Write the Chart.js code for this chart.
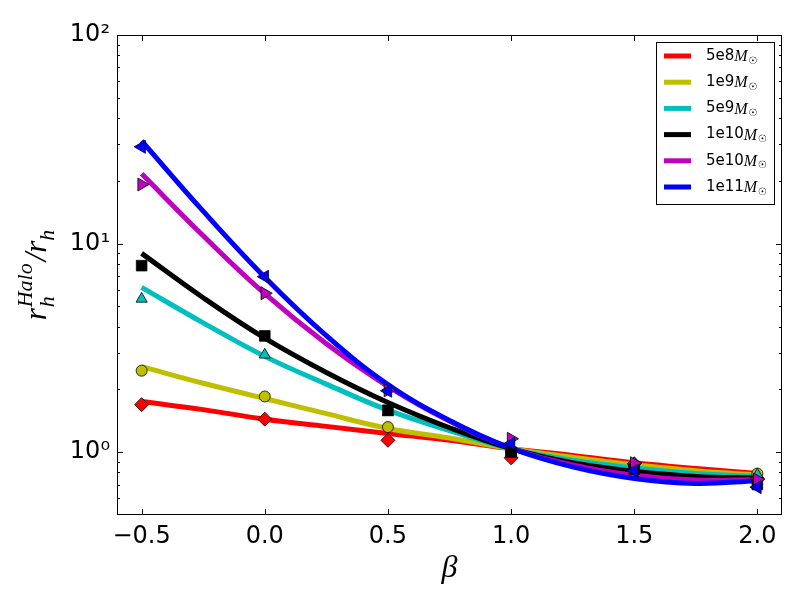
<!DOCTYPE html>
<html>
<head>
<meta charset="utf-8">
<script src="https://cdn.jsdelivr.net/npm/chart.js@4.4.1/dist/chart.umd.min.js"></script>
<style>
  html, body { margin: 0; padding: 0; background: #fff; }
  #wrap { width: 800px; height: 600px; }
</style>
</head>
<body>
<div id="wrap"><canvas id="haloChart" width="800" height="600"></canvas></div>
<script>
// beta values where the measured points sit, and where the fitted curves are read
const BETA_PTS = [-0.5, 0.0, 0.5, 1.0, 1.5, 2.0];
const BETA_FIT = [-0.5, -0.25, 0.0, 0.25, 0.5, 0.75, 1.0, 1.25, 1.5, 1.75, 2.0];

// series names (mass before the M_sun symbol)
const MASSES = ['5e8', '1e9', '5e9', '1e10', '5e10', '1e11'];

// measured r_h^Halo / r_h
const pts5e8  = [1.69, 1.44, 1.14, 0.94, 0.88, 0.75];
const pts1e9  = [2.46, 1.85, 1.32, 1.00, 0.87, 0.79];
const pts5e9  = [5.43, 2.93, 1.55, 1.00, 0.88, 0.78];
const pts1e10 = [7.84, 3.61, 1.59, 1.00, 0.83, 0.70];
const pts5e10 = [19.2, 5.78, 1.98, 1.16, 0.886, 0.74];
const pts1e11 = [29.1, 6.94, 1.97, 1.10, 0.816, 0.68];

// fitted curves
const fit5e8  = [1.75, 1.60, 1.44, 1.33, 1.23, 1.14, 1.04, 0.965, 0.89, 0.835, 0.79];
const fit1e9  = [2.57, 2.14, 1.81, 1.53, 1.30, 1.17, 1.04, 0.945, 0.87, 0.815, 0.776];
const fit5e9  = [6.17, 4.17, 2.88, 2.12, 1.59, 1.27, 1.04, 0.915, 0.84, 0.79, 0.767];
const fit1e10 = [8.98, 5.50, 3.52, 2.41, 1.73, 1.31, 1.04, 0.89, 0.81, 0.765, 0.753];
const fit5e10 = [21.6, 10.9, 5.75, 3.31, 2.07, 1.41, 1.045, 0.87, 0.776, 0.736, 0.74];
const fit1e11 = [31.1, 14.3, 6.90, 3.62, 2.11, 1.42, 1.045, 0.85, 0.748, 0.708, 0.73];

// axis ticks
const X_TICKS = [-0.5, 0.0, 0.5, 1.0, 1.5, 2.0];
const Y_TICKS = [1, 10, 100];
const Y_TICK_LABELS = ['10\u2070', '10\u00B9', '10\u00B2'];
const Y_MINOR = [0.6, 0.7, 0.8, 0.9, 2, 3, 4, 5, 6, 7, 8, 9, 20, 30, 40, 50, 60, 70, 80, 90];

const POINTS = [pts5e8, pts1e9, pts5e9, pts1e10, pts5e10, pts1e11];
const FITS = [fit5e8, fit1e9, fit5e9, fit1e10, fit5e10, fit1e11];
const COLORS = ['#ff0000', '#bfbf00', '#00bfbf', '#000000', '#bf00bf', '#0000ff'];
const MARKERS = [
    { style: 'rectRot', radius: 7, rotation: 0 },
    { style: 'circle', radius: 5.5, rotation: 0 },
    { style: 'triangle', radius: 6.5, rotation: 0 },
    { style: 'rect', radius: 7.5, rotation: 0 },
    { style: 'triangle', radius: 7.5, rotation: 90 },
    { style: 'triangle', radius: 7.5, rotation: -90 }
];

function buildDatasets() {
    const sets = [];
    // curves: blue drawn on top of the others
    FITS.forEach((fit, i) => {
        sets.push({
            label: MASSES[i],
            data: BETA_FIT.map((b, k) => ({ x: b, y: fit[k] })),
            borderColor: COLORS[i],
            borderWidth: 5,
            pointRadius: 0,
            fill: false,
            tension: 0.4,
            order: 6 + (5 - i)
        });
    });
    // markers above all the curves
    POINTS.forEach((vals, i) => {
        sets.push({
            label: MASSES[i] + ' pts',
            data: BETA_PTS.map((b, k) => ({ x: b, y: vals[k] })),
            showLine: false,
            backgroundColor: COLORS[i],
            pointBackgroundColor: COLORS[i],
            pointBorderColor: '#000',
            pointBorderWidth: 0.8,
            pointStyle: MARKERS[i].style,
            pointRadius: MARKERS[i].radius,
            pointRotation: MARKERS[i].rotation,
            order: 5 - i
        });
    });
    return sets;
}

// frame, inward ticks, y label and legend box
const decorations = {
    id: 'decorations',
    afterDraw(chart) {
        const ctx = chart.ctx;
        const a = chart.chartArea;
        const xs = chart.scales.x;
        const ys = chart.scales.y;
        ctx.save();
        ctx.strokeStyle = '#000';
        ctx.lineWidth = 1;
        ctx.strokeRect(a.left + 0.5, a.top + 0.5, a.right - a.left - 1, a.bottom - a.top - 1);

        ctx.beginPath();
        X_TICKS.forEach(v => {
            const px = Math.round(xs.getPixelForValue(v)) + 0.5;
            ctx.moveTo(px, a.bottom); ctx.lineTo(px, a.bottom - 6);
            ctx.moveTo(px, a.top); ctx.lineTo(px, a.top + 6);
        });
        Y_TICKS.forEach(v => {
            const py = Math.round(ys.getPixelForValue(v)) + 0.5;
            ctx.moveTo(a.left, py); ctx.lineTo(a.left + 6, py);
            ctx.moveTo(a.right, py); ctx.lineTo(a.right - 6, py);
        });
        Y_MINOR.forEach(v => {
            const py = Math.round(ys.getPixelForValue(v)) + 0.5;
            ctx.moveTo(a.left, py); ctx.lineTo(a.left + 3, py);
            ctx.moveTo(a.right, py); ctx.lineTo(a.right - 3, py);
        });
        ctx.stroke();

        drawYLabel(ctx, 46, (a.top + a.bottom) / 2);
        drawLegend(ctx);
        ctx.restore();
    }
};

function drawYLabel(ctx, cx, cy) {
    const big = 'italic 31px "Liberation Serif"';
    const small = 'italic 22px "Liberation Serif"';
    ctx.save();
    ctx.translate(cx, cy);
    ctx.rotate(-Math.PI / 2);
    ctx.fillStyle = '#000';
    ctx.textBaseline = 'alphabetic';
    ctx.textAlign = 'left';
    ctx.font = big;
    const wr = ctx.measureText('r').width;
    const ws = ctx.measureText('/').width;
    ctx.font = small;
    const wh = ctx.measureText('h').width;
    const wHalo = ctx.measureText('Halo').width;
    const total = wr + Math.max(wh, wHalo) + 3 + ws + wr + wh;
    let u = -total / 2;
    ctx.font = big;
    ctx.fillText('r', u, 0);
    u += wr;
    ctx.font = small;
    ctx.fillText('h', u + 1, 8);
    ctx.fillText('Halo', u + 1, -14);
    u += Math.max(wh, wHalo) + 3;
    ctx.font = big;
    ctx.fillText('/', u, 0);
    u += ws;
    ctx.fillText('r', u, 0);
    u += wr;
    ctx.font = small;
    ctx.fillText('h', u, 8);
    ctx.restore();
}

function drawLegend(ctx) {
    const left = 656, top = 42, w = 118, h = 162;
    ctx.fillStyle = '#fff';
    ctx.fillRect(left, top, w, h);
    ctx.strokeStyle = '#000';
    ctx.lineWidth = 1;
    ctx.strokeRect(left + 0.5, top + 0.5, w, h);
    MASSES.forEach((m, i) => {
        const y = 56 + i * 26.2;
        ctx.strokeStyle = COLORS[i];
        ctx.lineWidth = 5;
        ctx.beginPath();
        ctx.moveTo(664, y);
        ctx.lineTo(691, y);
        ctx.stroke();
        ctx.fillStyle = '#000';
        ctx.textBaseline = 'middle';
        ctx.textAlign = 'left';
        ctx.font = '15px "DejaVu Sans"';
        ctx.fillText(m, 706, y);
        let x = 706 + ctx.measureText(m).width;
        ctx.font = 'italic 16px "Liberation Serif"';
        ctx.fillText('M', x, y + 1);
        x += ctx.measureText('M').width;
        ctx.font = '10px "DejaVu Sans"';
        ctx.fillText('\u2609', x + 0.5, y + 5);
    });
}

function initializeHaloChart() {
    const canvas = document.getElementById('haloChart');
    return new Chart(canvas.getContext('2d'), {
        type: 'line',
        data: { datasets: buildDatasets() },
        options: {
            responsive: false,
            animation: false,
            events: [],
            layout: { padding: { left: 0, top: 35, right: 18, bottom: 0 } },
            plugins: {
                legend: { display: false },
                tooltip: { enabled: false }
            },
            scales: {
                x: {
                    type: 'linear',
                    min: -0.6,
                    max: 2.1,
                    afterBuildTicks: scale => { scale.ticks = X_TICKS.map(v => ({ value: v })); },
                    afterFit: scale => { scale.height = 85; },
                    grid: { display: false, drawTicks: false },
                    border: { display: false },
                    ticks: {
                        color: '#000',
                        padding: 7,
                        maxRotation: 0,
                        font: { family: 'DejaVu Sans', size: 24 },
                        callback: v => v.toFixed(1).replace('-', '\u2212')
                    },
                    title: {
                        display: true,
                        text: '\u03B2',
                        color: '#000',
                        padding: { top: 0, bottom: 12 },
                        font: { family: 'Liberation Serif', style: 'italic', size: 32 }
                    }
                },
                y: {
                    type: 'logarithmic',
                    min: 0.5,
                    max: 100,
                    afterBuildTicks: scale => { scale.ticks = Y_TICKS.map(v => ({ value: v })); },
                    afterFit: scale => { scale.width = 117; },
                    grid: { display: false, drawTicks: false },
                    border: { display: false },
                    ticks: {
                        color: '#000',
                        padding: 7,
                        font: { family: 'DejaVu Sans', size: 24 },
                        callback: v => Y_TICK_LABELS[Y_TICKS.indexOf(v)] || ''
                    }
                }
            }
        },
        plugins: [decorations]
    });
}

initializeHaloChart();
</script>
</body>
</html>
